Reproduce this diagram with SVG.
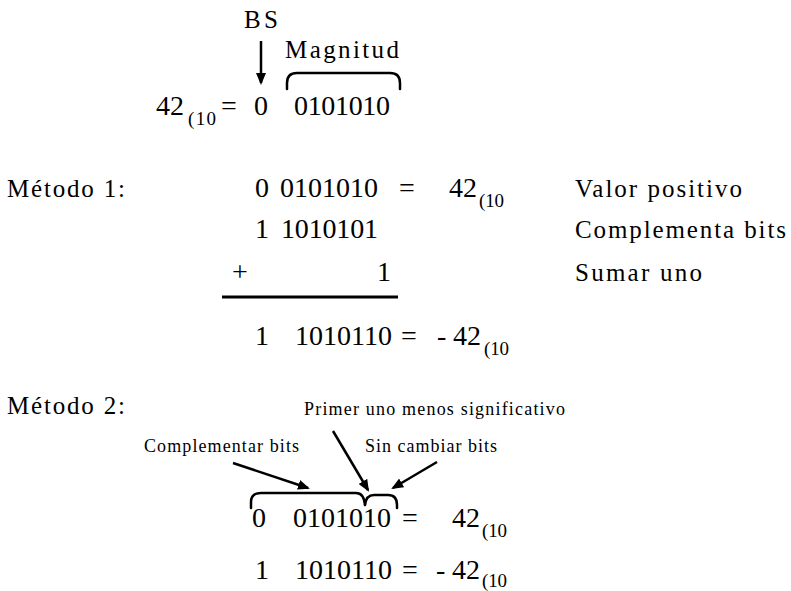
<svg xmlns="http://www.w3.org/2000/svg" width="791" height="591" viewBox="0 0 791 591">
<style>
text{font-family:"Liberation Serif","Times New Roman","DejaVu Serif",serif;fill:#000}
.n{font-size:28px}
.l{font-size:25px}
.s{font-size:18px}
.sub{font-size:19px}
.br{fill:none;stroke:#000;stroke-width:2.5;stroke-linecap:round;stroke-linejoin:round}
.ar{fill:none;stroke:#000;stroke-width:2.5}
.rule{stroke:#000;stroke-width:3}
</style>
<defs>
<marker id="ah" viewBox="0 0 12 10" refX="10" refY="5" markerWidth="12" markerHeight="10" orient="auto" markerUnits="userSpaceOnUse">
<path d="M0,0 L12,5 L0,10 z" fill="#000"/>
</marker>
</defs>

<g id="header">
<text class="l" x="244" y="28" textLength="34">BS</text>
<text class="l" x="285" y="58" textLength="114">Magnitud</text>
<path class="br" d="M287,89 L287,83 Q287,73 297,73 L390,73 Q400,73 400,83 L400,89"/>
<text class="n" x="156" y="115">42</text>
<text class="sub" x="188" y="125" textLength="28">(10</text>
<text class="n" x="221" y="115">=</text>
<text class="n" x="254" y="115">0</text>
<text class="n" x="294" y="115" textLength="96">0101010</text>
</g>

<g id="metodo1">
<text class="l" x="7" y="197" textLength="118">Método 1:</text>
<text class="n" x="255" y="197">0</text>
<text class="n" x="280" y="197" textLength="98">0101010</text>
<text class="n" x="399" y="197">=</text>
<text class="n" x="449" y="197">42</text>
<text class="sub" x="479" y="207" textLength="25">(10</text>
<text class="l" x="575" y="197" textLength="167">Valor positivo</text>

<text class="n" x="255" y="238">1</text>
<text class="n" x="281" y="238" textLength="97">1010101</text>
<text class="l" x="575" y="238" textLength="211">Complementa bits</text>

<text class="n" x="232" y="281">+</text>
<text class="n" x="377" y="281">1</text>
<text class="l" x="575" y="281" textLength="127">Sumar uno</text>

<line class="rule" x1="222" y1="297" x2="398" y2="297"/>

<text class="n" x="255" y="345">1</text>
<text class="n" x="295" y="345" textLength="97">1010110</text>
<text class="n" x="401" y="345">=</text>
<text class="n" x="437" y="345">-</text>
<text class="n" x="453" y="345">42</text>
<text class="sub" x="484" y="355" textLength="25">(10</text>
</g>

<g id="metodo2">
<text class="l" x="7" y="414" textLength="118">Método 2:</text>
<text class="s" x="304" y="415" textLength="261">Primer uno menos significativo</text>
<text class="s" x="144" y="452" textLength="155">Complementar bits</text>
<text class="s" x="365" y="452" textLength="132">Sin cambiar bits</text>

<path class="br" d="M251,508 L251,502 Q251,493 261,493 L356,493 Q364,493 365,505"/>
<path class="br" d="M365,505 Q366,495 374,495 L388,495 Q397,495 397,505 L397,508"/>

<text class="n" x="252" y="527">0</text>
<text class="n" x="293" y="527" textLength="98">0101010</text>
<text class="n" x="402" y="527">=</text>
<text class="n" x="452" y="527">42</text>
<text class="sub" x="482" y="537" textLength="25">(10</text>

<text class="n" x="255" y="579">1</text>
<text class="n" x="295" y="579" textLength="97">1010110</text>
<text class="n" x="402" y="579">=</text>
<text class="n" x="436" y="579">-</text>
<text class="n" x="452" y="579">42</text>
<text class="sub" x="482" y="587" textLength="25">(10</text>
</g>

<g id="connectors">
<line class="ar" x1="261" y1="41" x2="261" y2="83" marker-end="url(#ah)"/>
<line class="ar" x1="233" y1="463" x2="308" y2="488" marker-end="url(#ah)"/>
<line class="ar" x1="333" y1="431" x2="368" y2="490" marker-end="url(#ah)"/>
<line class="ar" x1="437" y1="462" x2="393" y2="488" marker-end="url(#ah)"/>
</g>
</svg>
